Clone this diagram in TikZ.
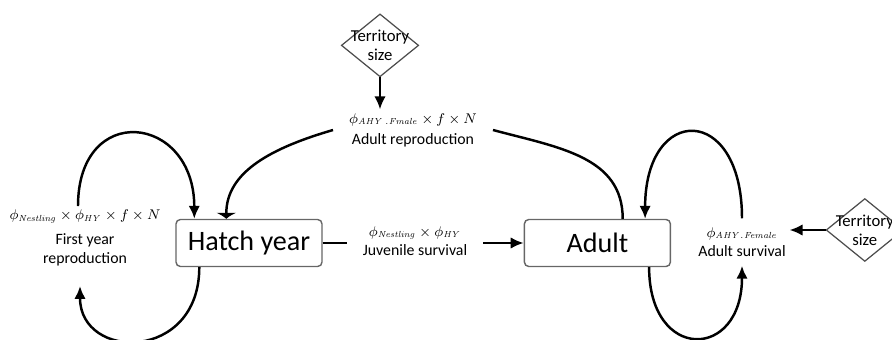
\documentclass[tikz,border=0pt]{standalone}
\usepackage[no-math]{fontspec}
\setmainfont{Carlito}
\usepackage{tikz}
\usetikzlibrary{positioning,calc,arrows.meta,shapes.geometric}
\newcommand{\rate}[1]{{\fontsize{7.8}{10}\selectfont$#1$}}
\tikzset{
statebox/.style={draw=black!60,line width=0.8pt,rounded corners=2.5pt,minimum width=2.92cm,minimum height=0.94cm,font=\fontsize{16}{19}\selectfont},
ratelabel/.style={align=center,inner xsep=9pt,inner ysep=2pt,font=\fontsize{9}{11}\selectfont},
cue/.style={draw=black!70,line width=0.7pt,shape=diamond,aspect=1.23,inner sep=-2.4pt,align=center,font=\fontsize{9.5}{11}\selectfont},
flow/.style={line width=1.4pt},
flowarrow/.style={flow,-{Latex[length=2.6mm,width=2.3mm]}},
barhead/.style={flow,-{Latex[length=1.2mm,width=4.2mm]}}
}

\begin{document}
\begin{tikzpicture}
\useasboundingbox (0,0) rectangle (17.84,6.78);
% stages
\node[statebox] (hy) at (4.98,1.92) {Hatch year};
\node[statebox,right=4.02cm of hy] (ad) {Adult};
% rates
\node[ratelabel] (ar) at (8.26,4.18) {\rate{\phi_{\mathit{AHY\,.Fmale}}\times f\times N}\\[1pt] Adult reproduction};
\node[ratelabel] (jv) at (8.30,1.96) {\rate{\phi_{\mathit{Nestling}}\times\phi_{\mathit{HY}}}\\ Juvenile survival};
\node[ratelabel,inner xsep=0pt] (fy) at (1.70,2.02) {\rate{\phi_{\mathit{Nestling}}\times\phi_{\mathit{HY}}\times f\times N}\\[3pt] First year\\ reproduction};
\node[ratelabel,inner xsep=2pt,inner ysep=5pt] (al) at (14.84,1.94) {\rate{\phi_{\mathit{AHY.Female}}}\\ Adult survival};
% territory size
\node[cue,above=0.64cm of ar,xshift=-0.66cm] (tsa) {Territory\\ size};
\node[cue,right=0.72cm of al,yshift=0.24cm] (tsb) {Territory\\ size};

\draw[flowarrow] (tsa.south) -- (tsa.south |- ar.north);
\draw[flowarrow] (tsb.west) -- (tsb.west -| al.east);
\draw[flow] (hy.east) -- (hy.east -| jv.west);
\draw[flowarrow] (jv.east |- ad.west) -- (ad.west);
\draw[flow] ([xshift=1.98cm]ad.north west) .. controls +(0,1.25) and +(1.3,-0.35) .. (ar.east);
\draw[barhead] (ar.west) .. controls +(-1.2,-0.35) and +(0,0.95) .. ([xshift=1.02cm]hy.north west);
% loops
\draw[flowarrow] ([xshift=-0.14cm]fy.north) .. controls +(0,2.1) and +(0,2.1) .. ([xshift=0.38cm]hy.north west);
\draw[flowarrow] ([xshift=0.48cm]hy.south west) .. controls +(0,-1.9) and +(0,-1.5) .. ([xshift=-0.1cm,yshift=-0.32cm]fy.south);
\draw[flowarrow] (al.north) .. controls +(0,2.3) and +(0,2.3) .. ([xshift=-0.52cm]ad.north east);
\draw[flowarrow] ([xshift=-0.44cm]ad.south east) .. controls +(0,-1.9) and +(0,-1.9) .. (al.south);
\end{tikzpicture}
\end{document}
